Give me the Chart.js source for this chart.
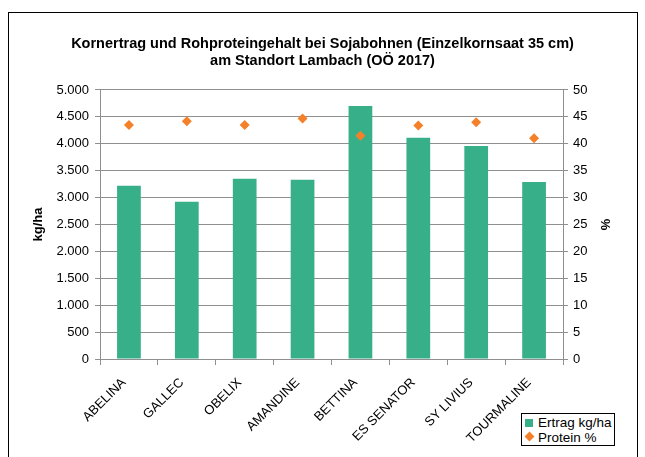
<!DOCTYPE html>
<html>
<head>
<meta charset="utf-8">
<script src="https://cdn.jsdelivr.net/npm/chart.js@4.4.1/dist/chart.umd.min.js"></script>
<style>
  html, body { margin: 0; padding: 0; background: #fff; }
  #wrap { position: relative; width: 645px; height: 457px; overflow: hidden; }
  #frame { position: absolute; left: 8px; top: 12px; width: 628px; height: 500px; border: 1px solid #000; }
  #chart { position: absolute; left: 0; top: 0; }
  #legend { position: absolute; left: 521px; top: 413px; width: 92px; height: 31px; border: 1px solid #000;
            font-family: "Liberation Sans", Arial, sans-serif; font-size: 13.5px; color: #000; background: #fff; }
  .item { position: absolute; left: 3px; white-space: nowrap; line-height: 15px; }
  .sw { display: inline-block; width: 8px; height: 8px; margin-right: 5px; vertical-align: 0px; }
  .dia { display: inline-block; width: 7px; height: 7px; margin: 0 5px 1px 1px; transform: rotate(45deg); vertical-align: 1px; }
</style>
</head>
<body>
<div id="wrap">
  <div id="frame"></div>
  <canvas id="chart" width="645" height="457"></canvas>
  <div id="legend">
    <div class="item" style="top:1px"><span class="sw" style="background:#37B089"></span>Ertrag kg/ha</div>
    <div class="item" style="top:16px"><span class="dia" style="background:#F4812A"></span>Protein %</div>
  </div>
</div>
<script>
// Sorten und Werte
const sorten = ['ABELINA', 'GALLEC', 'OBELIX', 'AMANDINE', 'BETTINA', 'ES SENATOR', 'SY LIVIUS', 'TOURMALINE'];
const ertrag = [3220, 2920, 3350, 3330, 4700, 4110, 3960, 3290];
const protein = [43.5, 44.2, 43.5, 44.7, 41.5, 43.4, 44.0, 41.0];

const gruen = '#37B089';
const orange = '#F4812A';
const grau = '#8f8f8f';
const schrift = '"Liberation Sans", Arial, sans-serif';

// Zahlen mit Tausenderpunkt
function formatDE(v) {
  return String(v).replace(/\B(?=(\d{3})+(?!\d))/g, '.');
}

const ctx = document.getElementById('chart').getContext('2d');

new Chart(ctx, {
  data: {
    labels: sorten,
    datasets: [
      {
        type: 'line',
        label: 'Protein %',
        data: protein,
        yAxisID: 'y1',
        showLine: false,
        pointStyle: 'rectRot',
        pointRadius: 5,
        pointHoverRadius: 5,
        backgroundColor: orange,
        borderColor: orange,
        borderWidth: 0
      },
      {
        type: 'bar',
        label: 'Ertrag kg/ha',
        data: ertrag,
        yAxisID: 'y',
        backgroundColor: gruen,
        borderWidth: 0,
        barPercentage: 0.41,
        categoryPercentage: 1
      }
    ]
  },
  options: {
    responsive: false,
    animation: false,
    devicePixelRatio: 1,
    layout: { padding: 0 },
    plugins: {
      legend: { display: false },
      tooltip: { enabled: false },
      title: {
        display: true,
        text: ['Kornertrag und Rohproteingehalt bei Sojabohnen (Einzelkornsaat 35 cm)', 'am Standort Lambach (OÖ 2017)'],
        color: '#000',
        font: { family: schrift, size: 14.5, weight: 'bold', lineHeight: 1.17 },
        padding: { top: 36, bottom: 20 }
      }
    },
    scales: {
      x: {
        grid: { drawOnChartArea: false, drawTicks: true, tickLength: 6, color: grau, offset: true },
        border: { color: grau, width: 1 },
        ticks: {
          color: '#000',
          font: { family: schrift, size: 13 },
          minRotation: 45,
          maxRotation: 45,
          padding: 10,
          labelOffset: -5
        },
        afterFit: s => { s.height = 98; }
      },
      y: {
        position: 'left',
        min: 0,
        max: 5000,
        grid: { color: grau, tickLength: 5 },
        border: { color: grau, width: 1 },
        ticks: {
          stepSize: 500,
          color: '#000',
          font: { family: schrift, size: 13 },
          padding: 6,
          callback: v => formatDE(v)
        },
        title: {
          display: true,
          text: 'kg/ha',
          color: '#000',
          font: { family: schrift, size: 13, weight: 'bold' },
          padding: { top: 31, bottom: 0 }
        },
        afterFit: s => { s.width = 100; }
      },
      y1: {
        position: 'right',
        min: 0,
        max: 50,
        grid: { drawOnChartArea: false, color: grau, tickLength: 5 },
        border: { color: grau, width: 1 },
        ticks: {
          stepSize: 5,
          color: '#000',
          font: { family: schrift, size: 13 },
          padding: 5
        },
        title: {
          display: true,
          text: '%',
          color: '#000',
          font: { family: schrift, size: 13, weight: 'bold' },
          padding: { top: 33, bottom: 0 }
        },
        afterFit: s => { s.width = 82; }
      }
    }
  }
});
</script>
</body>
</html>
